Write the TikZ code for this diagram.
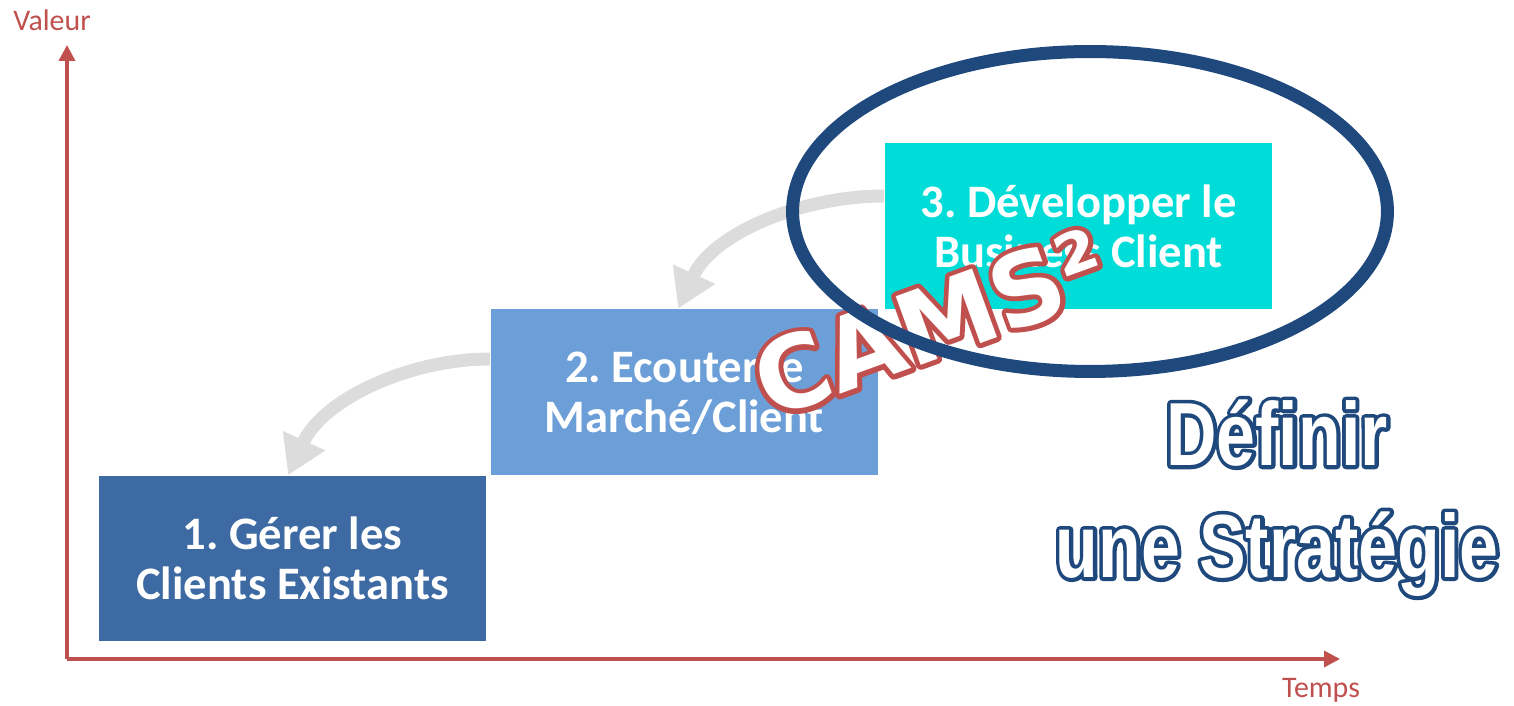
\documentclass[tikz,border=0pt]{standalone}
\usepackage{fontspec}
\usetikzlibrary{arrows.meta,calc}
\setmainfont{Carlito}
\newfontfamily\camsfont{DejaVu Sans}
\newfontfamily\stratfont[FakeStretch=0.78]{Liberation Sans}
\definecolor{axisred}{HTML}{C0504D}
\definecolor{ovalblue}{HTML}{1F497D}
\definecolor{boxone}{HTML}{3E6AA3}
\definecolor{boxtwo}{HTML}{6C9ED8}
\definecolor{boxthree}{HTML}{00DDD8}
\definecolor{arrowgray}{HTML}{DCDCDC}
% hollow letters: coloured stroke under a white fill (#1 = rgb stroke, #2 = width in bp)
\newcommand\hollow[3]{\rlap{\special{pdf:literal direct #1 RG #2 w 1 j 1 Tr}#3\special{pdf:literal direct 0 Tr}}#3}
\frenchspacing

\begin{document}
\begin{tikzpicture}[x=0.02cm,y=0.02cm,
stepbox/.style = {rectangle, fill=#1, minimum width=7.76cm, minimum height=3.32cm, inner sep=0pt,
  text=white, align=center, font=\bfseries\fontsize{26.5}{28.5}\selectfont},
axis/.style = {axisred, line width=0.07cm, -{Triangle[width=0.32cm,length=0.32cm]}},
axislabel/.style = {text=axisred, font=\fontsize{17}{20}\selectfont, inner sep=0pt},
backarrow/.style = {arrowgray, line width=0.26cm, -{Triangle[width=0.88cm,length=0.76cm]}}]
\useasboundingbox (0,0) rectangle (1514,706);

% axes
\coordinate (O) at (67,47);
\coordinate (ytop) at (67,661);
\coordinate (xend) at (1340,47);
\draw[axis] (O) -- (ytop);
\draw[axis] (O) -- (xend);
\node[axislabel] (valeur) at (52,686) {Valeur};
\node[axislabel] (temps) at (1321,16) {Temps};

% the three steps
\node[stepbox=boxone] (b1) at (292.5,147.5) {1. Gérer les\\Clients Existants};
\node[stepbox=boxtwo] (b2) at (684.5,314) {2. Ecouter le\\Marché/Client};
\node[stepbox=boxthree] (b3) at (1078.5,480) {3. Développer le\\Business Client};

% going back
\draw[backarrow] ($(b3.west)+(0,30)$) .. controls +(-81,0) and +(35,76) .. ($(b2.north west)+(188,0)$);
\draw[backarrow] ($(b2.west)+(0,33)$) .. controls +(-81,0) and +(35,76) .. ($(b1.north west)+(190,0)$);

% stamp
\node[text=white, rotate=20, inner sep=0pt, font=\camsfont\bfseries\fontsize{57}{57}\selectfont]
  (cams) at (930,383) {\hollow{0.753 0.314 0.302}{5.4}{CAMS²}};

\draw[ovalblue, line width=0.26cm] (1090,494.5) ellipse [x radius=5.95cm, y radius=3.2cm];

\node[text=white, align=center, inner sep=0pt, font=\stratfont\bfseries\fontsize{51}{63.7}\selectfont]
  (strat) at (1277,208) {\hollow{0.122 0.286 0.490}{4.4}{Définir}\\\hollow{0.122 0.286 0.490}{4.4}{une Stratégie}};

\end{tikzpicture}
\end{document}
